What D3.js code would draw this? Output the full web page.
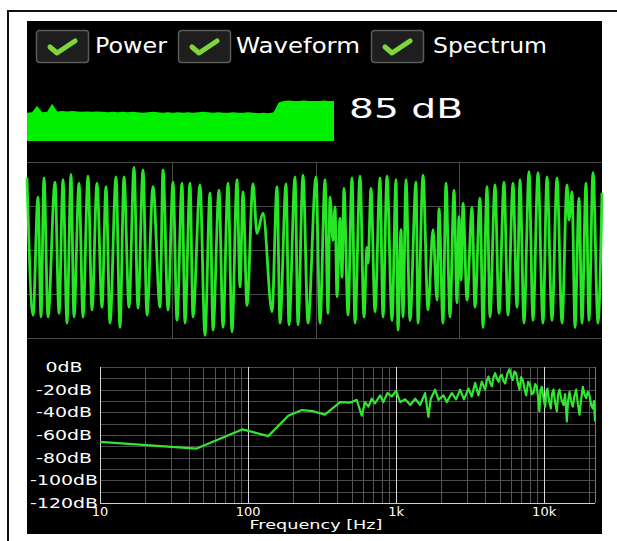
<!DOCTYPE html>
<html>
<head>
<meta charset="utf-8">
<script src="https://cdn.jsdelivr.net/npm/d3@7"></script>
<style>
  html, body { margin: 0; padding: 0; background: #fff; }
  svg { display: block; }
  text { font-family: "DejaVu Sans", sans-serif; fill: #fff; }
</style>
</head>
<body>
<svg id="chart" width="617" height="541"></svg>
<script>
// toggles shown across the top of the screen
const toggleLabels = ["Power", "Waveform", "Spectrum"];

// power history (dB), oldest first, and the current reading
const powerHistory = [60, 61, 75, 61, 62, 79, 63, 64, 63, 64, 63, 62, 63, 62, 63, 62,
  61, 62, 61, 62, 61, 62, 61, 60, 61, 62, 61, 60, 61, 60, 61, 60, 61, 60, 61, 62,
  61, 60, 61, 60, 60, 61, 60, 60, 61, 60, 59, 60, 59, 61, 82, 85, 86, 85, 85, 86,
  85, 85, 85, 86, 85, 85];
const currentDb = 85;

// waveform: [sample index, amplitude %] at the turning points
const waveSamples = [[0,82],[6,-74],[11,60],[14,-76],[17,82],[21,-76],[28,77],[32,-72],
  [36,80],[40,-83],[44,86],[47,-76],[52,76],[56,-76],[61,84],[65,-68],[70,76],[75,-65],
  [79,72],[83,-83],[89,83],[93,-88],[97,83],[102,-65],[107,94],[111,-66],[116,91],[120,-74],
  [126,72],[133,-65],[136,91],[141,-68],[146,77],[150,-80],[155,76],[158,-83],[163,76],[166,-76],
  [173,74],[178,-97],[183,65],[186,-91],[192,68],[196,-88],[201,76],[205,-93],[210,80],[213,-42],
  [216,66],[220,-63],[226,75],[230,19],[236,42],[245,-70],[250,72],[253,-83],[259,75],[262,-85],
  [268,83],[271,-85],[276,85],[281,-83],[289,83],[293,-83],[298,80],[301,-72],[303,60],[306,11],
  [308,49],[310,-53],[313,36],[315,-31],[317,70],[321,-74],[325,82],[328,-83],[333,84],[337,-76],
  [340,3],[341,-15],[344,70],[348,-70],[353,82],[356,-76],[360,84],[365,-80],[369,80],[371,-91],
  [374,23],[376,-76],[379,80],[383,-80],[389,77],[391,-83],[396,85],[401,-68],[406,23],[410,-57],
  [412,47],[416,-83],[419,76],[423,-76],[427,68],[430,-60],[432,38],[434,-34],[436,53],[440,-57],
  [445,48],[448,-65],[453,59],[456,-88],[460,72],[463,-76],[468,74],[472,-72],[477,77],[481,-74],
  [486,76],[490,-65],[493,80],[497,-83],[502,89],[506,-80],[511,88],[516,-83],[520,83],[525,-80],
  [530,82],[535,-83],[540,74],[542,34],[545,66],[548,-88],[552,59],[555,-83],[559,76],[562,-80],
  [566,88],[571,-83],[575,65]];
const waveLength = 575;

// spectrum: frequency (Hz) and level (dB)
const specFreq = [10,45,92,137,187,231,275,330,419,489,542,586,617,650,684,721,780,820,874,935,
  1000,1066,1151,1245,1346,1453,1570,1653,1715,1835,1932,2088,2199,2377,2543,2704,2877,3077,3243,3418,
  3597,3791,3993,4100,4205,4320,4432,4550,4669,4790,4916,5050,5179,5300,5451,5640,5832,5980,6139,6300,
  6466,6640,6812,6990,7173,7360,7557,7800,8036,8250,8465,8700,8920,9100,9287,9450,9640,9900,10160,10350,
  10530,10800,11090,11300,11560,11850,12180,12400,12690,13100,13510,13850,14230,14500,14840,15200,15620,16000,16450,16900,
  17330,17800,18250,18700,19220,19700,20240,20800,21310,21700,22050];
const specDb = [-66,-72,-55,-61,-43,-38,-39,-42,-31,-31.5,-29,-43,-31,-35,-28,-32,-25,-31,-23,-26,
  -21,-31,-28.5,-33.5,-28,-33.5,-23,-44,-28,-20,-29,-25,-31,-23,-28.5,-20,-28.5,-19,-26,-14,
  -25,-13,-20,-12,-8.5,-14,-17,-9,-5.5,-10,-13,-8,-7,-12,-14.5,-6,-2,-8,-11.5,-4,
  -5.5,-14,-20,-9,-11.5,-19,-25,-13,-16,-24,-23,-15,-17.5,-27,-39,-20,-17.5,-28,-35,-22,
  -19,-30,-36.5,-24,-20,-31,-39,-25,-20,-29,-33.5,-24,-48,-30,-22,-30,-35,-26,-20,-33,
  -42,-28,-17.5,-24,-27.5,-22,-25,-34,-36.5,-30,-48];
const dbTicks = [0, -20, -40, -60, -80, -100, -120];
const freqTicks = [10, 100, 1000, 10000];
const freqTickLabels = ["10", "100", "1k", "10k"];

const svg = d3.select("#chart");

// stretch text sideways a little, the app font is a wide one
function widen(sel, k) {
  sel.each(function () {
    const w = this.getComputedTextLength();
    d3.select(this)
      .attr("textLength", w * k)
      .attr("lengthAdjust", "spacingAndGlyphs");
  });
}

// phone frame + black screen
svg.append("path")
  .attr("d", "M8,541V11H617")
  .attr("fill", "none")
  .attr("stroke", "#111")
  .attr("stroke-width", 2);
svg.append("rect")
  .attr("x", 27).attr("y", 21)
  .attr("width", 575).attr("height", 513)
  .attr("fill", "#000");

// --- checkboxes
const boxX = [36, 178, 371];
const labelX = [95, 236, 433];
const labelW = [72, 124, 114];
const tg = svg.append("g");
toggleLabels.forEach((name, i) => {
  const g = tg.append("g").attr("transform", `translate(${boxX[i]},30)`);
  g.append("rect")
    .attr("x", 0.5).attr("y", 0.5)
    .attr("width", 52).attr("height", 32)
    .attr("rx", 3)
    .attr("fill", "#1e1e1e")
    .attr("stroke", "#5a5a5a")
    .attr("stroke-width", 1.5);
  g.append("path")
    .attr("d", "M14,17L21,23L39,11")
    .attr("fill", "none")
    .attr("stroke", "#7fd63a")
    .attr("stroke-width", 5)
    .attr("stroke-linecap", "round")
    .attr("stroke-linejoin", "round");
  tg.append("text")
    .attr("x", labelX[i]).attr("y", 53)
    .attr("font-size", 21)
    .attr("textLength", labelW[i])
    .attr("lengthAdjust", "spacingAndGlyphs")
    .text(name);
});

// --- power history bar
const px = d3.scaleLinear().domain([0, powerHistory.length - 1]).range([27, 334]);
const py = d3.scaleLinear().domain([0, 100]).range([141, 94]);
svg.append("path")
  .datum(powerHistory)
  .attr("fill", "#00f000")
  .attr("d", d3.area()
    .x((d, i) => px(i))
    .y0(py(0))
    .y1(d => py(d)));
svg.append("text")
  .attr("x", 349).attr("y", 118)
  .attr("font-size", 27)
  .attr("textLength", 114)
  .attr("lengthAdjust", "spacingAndGlyphs")
  .text(`${currentDb} dB`);

// --- waveform
const wx = d3.scaleLinear().domain([0, waveLength]).range([27, 602]);
const wy = d3.scaleLinear().domain([-100, 100]).range([338, 162]);
const wGrid = svg.append("g").attr("stroke", "#4a4a4a").attr("stroke-width", 1);
[0, 1, 2, 3, 4].forEach(i => {
  wGrid.append("line")
    .attr("x1", 27).attr("x2", 602)
    .attr("y1", wy(-100 + i * 50) + 0.5).attr("y2", wy(-100 + i * 50) + 0.5);
});
[1, 2, 3].forEach(i => {
  const x = Math.round(wx(waveLength * i / 4)) + 1.5;
  wGrid.append("line")
    .attr("x1", x).attr("x2", x)
    .attr("y1", wy(100)).attr("y2", wy(-100));
});
svg.append("path")
  .datum(waveSamples)
  .attr("fill", "none")
  .attr("stroke", "#26e626")
  .attr("stroke-width", 2.8)
  .attr("stroke-linejoin", "round")
  .attr("d", d3.line()
    .x(d => wx(d[0]))
    .y(d => wy(d[1]))
    .curve(d3.curveMonotoneX));

// --- spectrum
const sx = d3.scaleLog().domain([10, 22050]).range([100, 595]);
const sy = d3.scaleLinear().domain([-120, 0]).range([503, 367]);
const sGrid = svg.append("g").attr("stroke-width", 1);
d3.range(-120, 1, 10).forEach(v => {
  sGrid.append("line")
    .attr("x1", sx(10)).attr("x2", sx(22050))
    .attr("y1", Math.round(sy(v)) + 0.5).attr("y2", Math.round(sy(v)) + 0.5)
    .attr("stroke", v === -120 ? "#cfcfcf" : "#4a4a4a");
});
freqTicks.forEach(d => {
  d3.range(1, 10).forEach(k => {
    const f = d * k;
    if (f > 22050) return;
    const x = Math.round(sx(f)) + 0.5;
    sGrid.append("line")
      .attr("x1", x).attr("x2", x)
      .attr("y1", sy(0)).attr("y2", sy(-120))
      .attr("stroke", k === 1 ? "#d8d8d8" : "#555");
  });
});
sGrid.append("line")
  .attr("x1", Math.round(sx(22050)) + 0.5).attr("x2", Math.round(sx(22050)) + 0.5)
  .attr("y1", sy(0)).attr("y2", sy(-120))
  .attr("stroke", "#777");

svg.append("g").selectAll("text")
  .data(dbTicks)
  .join("text")
  .attr("x", 64)
  .attr("y", d => sy(d) + 5)
  .attr("text-anchor", "middle")
  .attr("font-size", 14)
  .text(d => `${d}dB`)
  .call(widen, 1.35);

svg.append("g").selectAll("text")
  .data(freqTicks)
  .join("text")
  .attr("x", d => sx(d))
  .attr("y", 516)
  .attr("text-anchor", "middle")
  .attr("font-size", 13)
  .text((d, i) => freqTickLabels[i]);

svg.append("text")
  .attr("x", 316).attr("y", 529)
  .attr("text-anchor", "middle")
  .attr("font-size", 12)
  .attr("textLength", 133)
  .attr("lengthAdjust", "spacingAndGlyphs")
  .text("Frequency [Hz]");

svg.append("path")
  .datum(specFreq.map((f, i) => [f, specDb[i]]))
  .attr("fill", "none")
  .attr("stroke", "#33e633")
  .attr("stroke-width", 2.2)
  .attr("stroke-linejoin", "round")
  .attr("d", d3.line()
    .x(d => sx(d[0]))
    .y(d => sy(d[1])));
</script>
</body>
</html>
